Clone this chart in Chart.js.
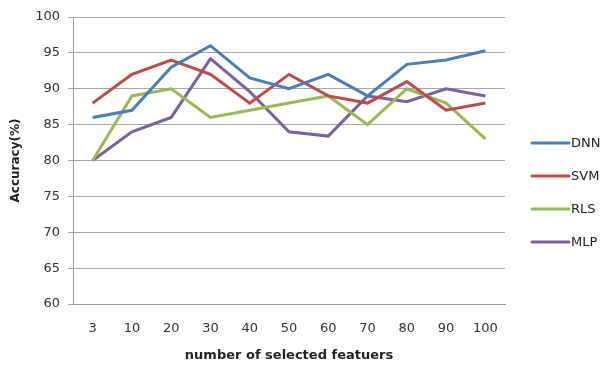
<!DOCTYPE html>
<html>
<head>
<meta charset="utf-8">
<script src="https://cdn.jsdelivr.net/npm/chart.js@4/dist/chart.umd.min.js"></script>
<style>
  html, body { margin: 0; padding: 0; background: #ffffff; }
  #wrap { width: 604px; height: 365px; }
</style>
</head>
<body>
<div id="wrap"><canvas id="chart" width="604" height="365"></canvas></div>
<script>
// Number of selected features (x categories)
const featureCounts = ['3', '10', '20', '30', '40', '50', '60', '70', '80', '90', '100'];

// Accuracy (%) per classifier
const dnnAccuracy = [86, 87, 93, 96, 91.5, 90, 92, 89, 93.4, 94, 95.3];
const svmAccuracy = [88, 92, 94, 92, 88, 92, 89, 88, 91, 87, 88];
const rlsAccuracy = [80, 89, 90, 86, 87, 88, 89, 85, 90, 88, 83];
const mlpAccuracy = [80, 84, 86, 94.2, 89.6, 84, 83.4, 89, 88.2, 90, 89];

const seriesNames = ['DNN', 'SVM', 'RLS', 'MLP'];
const seriesColors = ['#4A7EBB', '#BE4B48', '#98B954', '#7D60A0'];

const FONT = 'DejaVu Sans';
const TEXT = '#333333';

// Legend drawn to the right of the plot area
const sideLegend = {
  id: 'sideLegend',
  afterDraw(chart) {
    const ctx = chart.ctx;
    ctx.save();
    chart.data.datasets.forEach((ds, i) => {
      const y = 143 + i * 33;
      ctx.strokeStyle = ds.borderColor;
      ctx.lineWidth = 3;
      ctx.lineCap = 'round';
      ctx.beginPath();
      ctx.moveTo(532, y);
      ctx.lineTo(569, y);
      ctx.stroke();
      ctx.fillStyle = '#222222';
      ctx.font = '13px ' + FONT;
      ctx.textAlign = 'left';
      ctx.textBaseline = 'middle';
      ctx.fillText(ds.label, 571, y + 1);
    });
    ctx.restore();
  }
};

const values = [dnnAccuracy, svmAccuracy, rlsAccuracy, mlpAccuracy];

new Chart(document.getElementById('chart'), {
  type: 'line',
  data: {
    labels: featureCounts,
    datasets: values.map((v, i) => ({
      label: seriesNames[i],
      data: v,
      borderColor: seriesColors[i],
      backgroundColor: seriesColors[i],
      borderWidth: 3,
      pointRadius: 0,
      tension: 0,
      fill: false
    }))
  },
  options: {
    responsive: false,
    animation: false,
    layout: { padding: { left: 0, right: 99, top: 17, bottom: 0 } },
    plugins: { legend: { display: false }, tooltip: { enabled: false } },
    scales: {
      x: {
        offset: true,
        grid: { display: false, drawTicks: false, tickLength: 0 },
        border: { display: true, color: '#9A9A9A', width: 1 },
        ticks: { color: TEXT, font: { family: FONT, size: 13 }, padding: 17 },
        title: {
          display: true,
          text: 'number of selected featuers',
          color: '#222222',
          font: { family: FONT, size: 13, weight: 'bold' },
          padding: { top: 0, bottom: 2 }
        },
        afterFit(scale) { scale.height = 61; }
      },
      y: {
        min: 60,
        max: 100,
        ticks: { stepSize: 5, color: TEXT, font: { family: FONT, size: 13 }, padding: 8 },
        grid: { color: '#A6A6A6', lineWidth: 1, drawTicks: true, tickLength: 5 },
        border: { display: true, color: '#9A9A9A', width: 1 },
        title: {
          display: true,
          text: 'Accuracy(%)',
          color: '#222222',
          font: { family: FONT, size: 12, weight: 'bold' },
          padding: { top: 9, bottom: 0 }
        },
        afterFit(scale) { scale.width = 73; }
      }
    }
  },
  plugins: [sideLegend]
});
</script>
</body>
</html>
